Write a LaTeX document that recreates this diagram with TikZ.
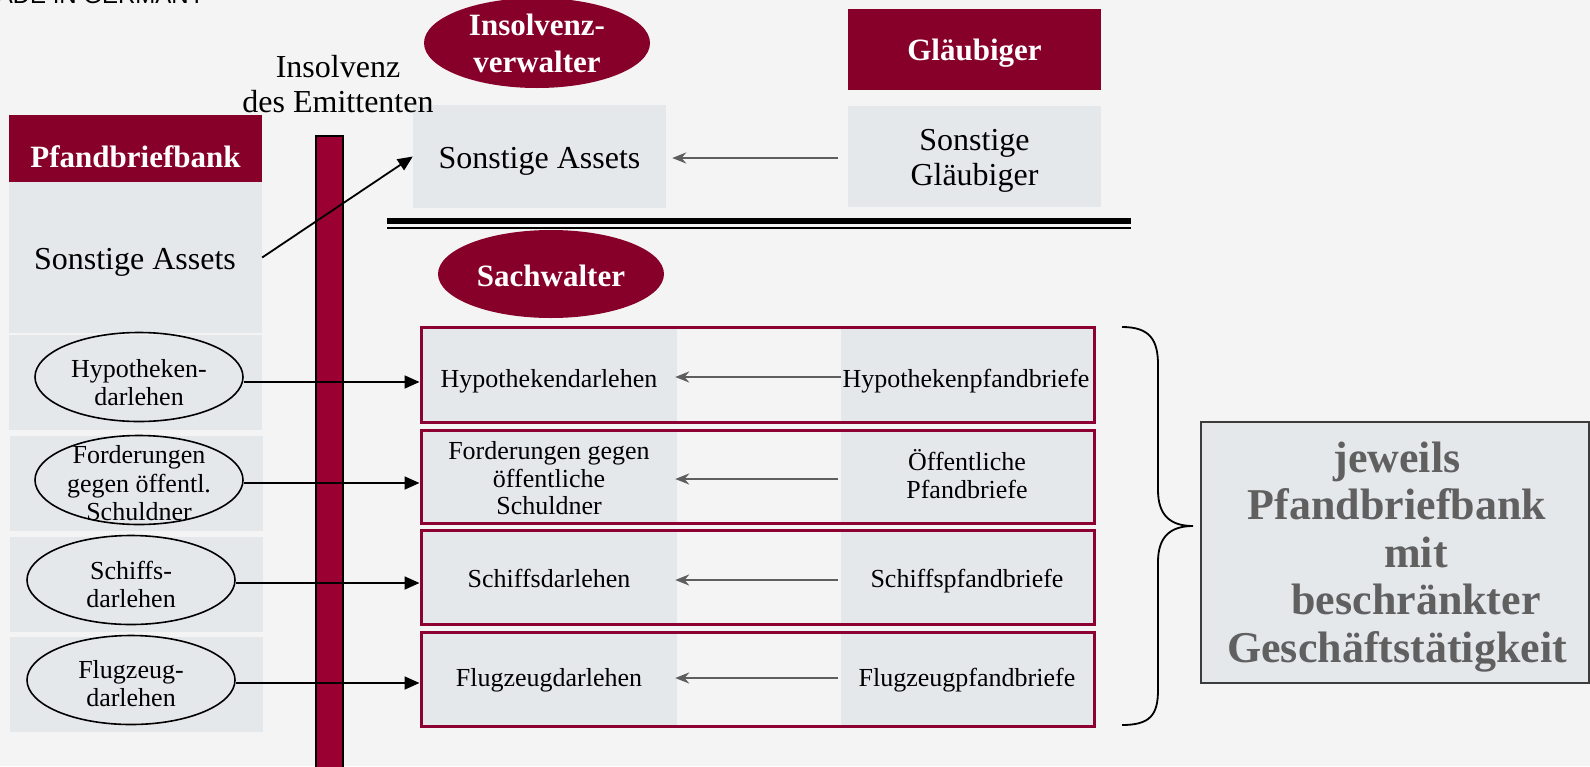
\documentclass[tikz,border=0pt]{standalone}
\usepackage{fontspec}
\setmainfont{Liberation Serif}
\newfontfamily\sansf{Liberation Sans}
\usetikzlibrary{shapes.geometric,arrows.meta}
\definecolor{bgc}{HTML}{F4F4F4}
\definecolor{panelc}{HTML}{E5E8EB}
\definecolor{hdrred}{HTML}{87002A}
\definecolor{barred}{HTML}{9B0032}
\definecolor{boxred}{HTML}{8C0032}
\definecolor{arrowgray}{HTML}{5E5E5E}
\definecolor{bigtext}{HTML}{606060}
\definecolor{rbord}{HTML}{3C3C3C}
\newcommand\fBig{\fontsize{32}{35}\selectfont}
\newcommand\fMid{\fontsize{26}{28.5}\selectfont}
\newcommand\fSm{\fontsize{26}{27.5}\selectfont}
\begin{document}
\begin{tikzpicture}[x=1pt,y=-1pt,
  pnl/.style={rectangle,fill=panelc,inner sep=0},
  hdr/.style={rectangle,fill=hdrred,inner sep=0},
  ovl/.style={ellipse,draw=black,line width=1.6pt,inner sep=0,minimum width=208pt,minimum height=89pt},
  redell/.style={ellipse,fill=hdrred,inner sep=0,minimum width=226pt},
  txt/.style={inner sep=0,align=center},
  wtxt/.style={inner sep=0,align=center,text=white,font=\fontsize{31}{35}\selectfont\bfseries},
  rbox/.style={rectangle,draw=boxred,line width=3pt,inner sep=0,minimum width=673pt},
  barrow/.style={-{Triangle[length=15pt,width=13pt]},line width=1.8pt,black},
  garrow/.style={-{Stealth[length=14pt,width=11pt]},line width=2.5pt,arrowgray},
]
\fill[bgc] (0,0) rectangle (1590,766);
\useasboundingbox (0,0) rectangle (1590,766);
\clip (0,0) rectangle (1590,766);

\node[anchor=base east,inner sep=0,font=\sansf\fontsize{24}{28}\selectfont] (made) at (205,3) {MADE IN GERMANY};

% left column
\node[hdr,minimum width=253pt,minimum height=67pt] (pbb) at (135.5,148.5) {};
\node[wtxt,anchor=base] (pbbT) at (135.5,167) {Pfandbriefbank};
\node[pnl,minimum width=253pt,minimum height=151pt] (leftSA) at (135.5,257.5) {};
\node[txt,font=\fBig,anchor=base] (leftSAt) at (135,269) {Sonstige Assets};
\node[pnl,minimum width=253pt,minimum height=95pt] (p1) at (135.5,382.5) {};
\node[pnl,minimum width=253pt,minimum height=95pt] (p2) at (136.5,483.5) {};
\node[pnl,minimum width=253pt,minimum height=95pt] (p3) at (136.5,584.5) {};
\node[pnl,minimum width=253pt,minimum height=95pt] (p4) at (136.5,684.5) {};

\node[ovl] (hypE) at (139,377) {};
\node[ovl] (fordE) at (139,480) {};
\node[ovl] (schE) at (131,580) {};
\node[ovl] (flugE) at (131,680) {};
\node[txt,font=\fMid] (hypT) at (139,382.5) {Hypotheken-\\darlehen};
\node[txt,font=\fMid] (fordT) at (139,483.5) {Forderungen\\gegen öffentl.\\Schuldner};
\node[txt,font=\fMid] (schT) at (131,584.5) {Schiffs-\\darlehen};
\node[txt,font=\fMid] (flugT) at (131,683.5) {Flugzeug-\\darlehen};

% insolvency bar
\node[rectangle,fill=barred,draw=black,line width=1.5pt,inner sep=0,minimum width=27pt,minimum height=660pt,anchor=north] (bar) at (329.5,135) {};

% top part
\node[redell,minimum height=90pt] (iv) at (537,43) {};
\node[wtxt,font=\fontsize{31}{37}\selectfont\bfseries] (ivT) at (537,43) {Insolvenz-\\verwalter};
\node[hdr,minimum width=253pt,minimum height=81pt] (gl) at (974.5,49.5) {};
\node[wtxt,anchor=base] (glT) at (974.5,60) {Gläubiger};
\node[pnl,minimum width=253pt,minimum height=103pt] (topSA) at (539.5,156.5) {};
\node[txt,font=\fBig,anchor=base] (topSAt) at (539.5,168) {Sonstige Assets};
\node[pnl,minimum width=253pt,minimum height=101pt] (sg) at (974.5,156.5) {};
\node[txt,font=\fBig] (sgT) at (974.5,160.5) {Sonstige\\Gläubiger};
\node[txt,font=\fBig] (insT) at (338,84.5) {Insolvenz\\des Emittenten};

\coordinate (dlA) at (387,220.5);
\coordinate (dlB) at (1131,220.5);
\draw[line width=6pt] (dlA) -- (dlB);
\draw[line width=2.5pt] ([yshift=-7.5pt]dlA) -- ([yshift=-7.5pt]dlB);

\node[redell,minimum height=88pt] (sw) at (551,274) {};
\node[wtxt] (swT) at (551,275.5) {Sachwalter};

% red boxes
\node[pnl,minimum width=256pt,minimum height=95pt] (l1) at (549,374.5) {};
\node[pnl,minimum width=253pt,minimum height=95pt] (r1) at (967.5,374.5) {};
\node[pnl,minimum width=256pt,minimum height=93pt] (l2) at (549,476.5) {};
\node[pnl,minimum width=253pt,minimum height=93pt] (r2) at (967.5,476.5) {};
\node[pnl,minimum width=256pt,minimum height=94pt] (l3) at (549,577) {};
\node[pnl,minimum width=253pt,minimum height=94pt] (r3) at (967.5,577) {};
\node[pnl,minimum width=256pt,minimum height=94pt] (l4) at (549,679) {};
\node[pnl,minimum width=253pt,minimum height=94pt] (r4) at (967.5,679) {};
\node[rbox,minimum height=95pt] (b1) at (757.5,374.5) {};
\node[rbox,minimum height=93pt] (b2) at (757.5,476.5) {};
\node[rbox,minimum height=94pt] (b3) at (757.5,577) {};
\node[rbox,minimum height=94pt] (b4) at (757.5,679) {};

\node[txt,font=\fSm,anchor=base] (l1T) at (549,387) {Hypothekendarlehen};
\node[txt,font=\fSm,anchor=base] (r1T) at (966,387) {Hypothekenpfandbriefe};
\node[txt,font=\fSm] (l2T) at (549,478.5) {Forderungen gegen\\öffentliche\\Schuldner};
\node[txt,font=\fSm] (r2T) at (967,474) {Öffentliche\\Pfandbriefe};
\node[txt,font=\fSm,anchor=base] (l3T) at (549,587) {Schiffsdarlehen};
\node[txt,font=\fSm,anchor=base] (r3T) at (967,587) {Schiffspfandbriefe};
\node[txt,font=\fSm,anchor=base] (l4T) at (549,686) {Flugzeugdarlehen};
\node[txt,font=\fSm,anchor=base] (r4T) at (967,686) {Flugzeugpfandbriefe};

% arrows
\draw[barrow] (leftSA.east) -- (topSA.west);
\draw[barrow] ([yshift=-5pt]hypE.east) -- ([yshift=-5pt]hypE.east -| b1.west);
\draw[barrow] ([yshift=-3pt]fordE.east) -- ([yshift=-3pt]fordE.east -| b2.west);
\draw[barrow] ([yshift=-3pt]schE.east) -- ([yshift=-3pt]schE.east -| b3.west);
\draw[barrow] ([yshift=-3pt]flugE.east) -- ([yshift=-3pt]flugE.east -| b4.west);

\draw[garrow] ([xshift=-10pt,yshift=-1.5pt]sg.west) -- ([xshift=6pt,yshift=-1.5pt]topSA.east);
\draw[garrow] ([yshift=-2.5pt]r1.west) -- ([xshift=-2pt,yshift=-2.5pt]l1.east);
\draw[garrow] ([xshift=-3pt,yshift=-2.5pt]r2.west) -- ([xshift=-2pt,yshift=-2.5pt]l2.east);
\draw[garrow] ([xshift=-3pt,yshift=-3pt]r3.west) -- ([xshift=-2pt,yshift=-3pt]l3.east);
\draw[garrow] ([xshift=-3pt,yshift=1pt]r4.west) -- ([xshift=-2pt,yshift=1pt]l4.east);

% brace and summary box
\draw[line width=1.8pt] (1122,327) .. controls (1150,327) and (1158,340) .. (1158,365) -- (1158,490) .. controls (1158,515) and (1170,526) .. (1193,526) .. controls (1170,526) and (1158,537) .. (1158,562) -- (1158,690) .. controls (1158,715) and (1150,725) .. (1122,725);
\node[rectangle,fill=panelc,draw=rbord,line width=1.5pt,inner sep=0,minimum width=388pt,minimum height=261pt] (sum) at (1395,552.5) {};
\node[txt,font=\fontsize{44}{47.5}\selectfont\bfseries,text=bigtext] (sumT) at (1397,557) {jeweils\\Pfandbriefbank\\\hspace*{38pt}mit\\\hspace*{38pt}beschränkter\\Geschäftstätigkeit};
\end{tikzpicture}
\end{document}
